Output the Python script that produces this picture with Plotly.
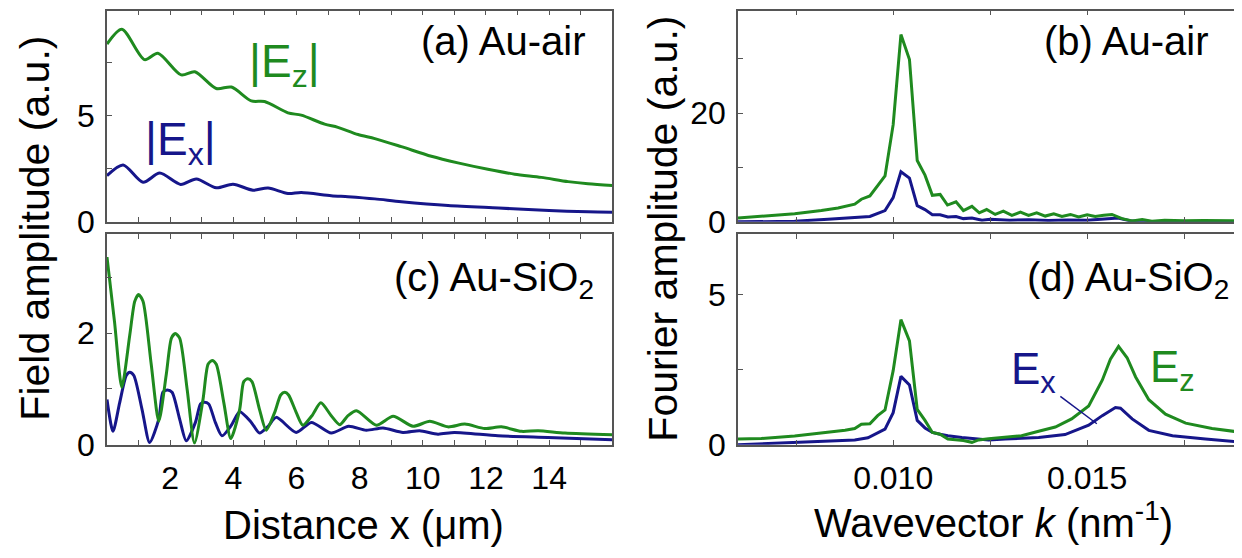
import plotly.graph_objects as go

# ---------------- data ----------------
# (a) Au-air, field amplitude vs distance (um)
ez_a_x = [0, 0.47, 1.19, 1.61, 2.35, 2.78, 3.46, 3.94, 4.57, 4.99, 5.73, 6.15, 6.89, 7.31, 7.95,
          8.48, 9.32, 10.27, 11.11, 12.06, 12.91, 13.75, 14.6, 15.23, 16.0]
ez_a_y = [8.35, 9.05, 7.62, 7.92, 6.9, 7.05, 6.26, 6.33, 5.68, 5.65, 5.12, 5.01, 4.59, 4.44, 4.1,
          3.91, 3.53, 3.08, 2.77, 2.47, 2.24, 2.09, 1.89, 1.79, 1.71]
ex_a_x = [0, 0.51, 1.14, 1.67, 2.33, 2.83, 3.46, 3.99, 4.62, 5.1, 5.73, 6.15, 7.1, 7.63, 8.48,
          9.32, 10.8, 12.4, 14.0, 15.23, 16.0]
ex_a_y = [2.17, 2.67, 1.86, 2.29, 1.76, 2.01, 1.6, 1.77, 1.49, 1.59, 1.33, 1.38, 1.23, 1.18, 1.08,
          0.95, 0.77, 0.65, 0.53, 0.47, 0.45]

# (c) Au-SiO2
ez_c_x = [0.0, 0.24, 0.47, 0.72, 0.88, 1.0, 1.14, 1.40, 1.64, 1.88, 2.04, 2.16, 2.3, 2.54, 2.77,
          3.04, 3.2, 3.33, 3.46, 3.7, 3.92, 4.2, 4.33, 4.46, 4.59, 4.83, 5.04, 5.31, 5.5, 5.63,
          5.75, 5.99, 6.2, 6.49, 6.77, 7.1, 7.37, 7.63, 7.9, 8.53, 9.06, 9.69, 10.22, 10.8,
          11.33, 11.96, 12.49, 13.12, 13.65, 14.5, 16.0]
ez_c_y = [3.36, 2.19, 1.03, 1.96, 2.57, 2.69, 2.57, 1.44, 0.42, 1.27, 1.91, 1.99, 1.91, 0.98, 0.03,
          0.81, 1.44, 1.51, 1.44, 0.75, 0.11, 0.63, 1.13, 1.18, 1.13, 0.63, 0.26, 0.58, 0.89, 0.94,
          0.89, 0.58, 0.35, 0.52, 0.75, 0.52, 0.36, 0.52, 0.61, 0.35, 0.51, 0.33, 0.42, 0.32,
          0.37, 0.29, 0.32, 0.24, 0.25, 0.21, 0.18]
ex_c_x = [0.0, 0.19, 0.4, 0.61, 0.72, 0.85, 1.11, 1.35, 1.64, 1.77, 1.91, 2.06, 2.3, 2.51, 2.8,
          2.96, 3.07, 3.22, 3.43, 3.64, 3.94, 4.2, 4.57, 4.83, 5.1, 5.36, 5.99, 6.47, 7.1, 7.65,
          8.21, 8.74, 9.37, 9.9, 10.48, 11.0, 12.38, 13.96, 16.0]
ex_c_y = [0.81, 0.24, 0.75, 1.24, 1.3, 1.24, 0.63, 0.04, 0.46, 0.94, 0.98, 0.94, 0.46, 0.07, 0.4,
          0.73, 0.76, 0.73, 0.4, 0.16, 0.35, 0.59, 0.4, 0.21, 0.33, 0.49, 0.22, 0.40, 0.21, 0.33,
          0.26, 0.30, 0.22, 0.25, 0.19, 0.22, 0.16, 0.13, 0.09]

# (b) Au-air, Fourier amplitude vs wavevector (1/nm)
ez_b_k = [0.0060, 0.0066, 0.00746, 0.00815, 0.00858, 0.00901, 0.00918, 0.0094, 0.00979, 0.0100,
          0.0102, 0.01042, 0.01062, 0.01082, 0.01101, 0.01121, 0.0114, 0.01162, 0.01181, 0.01203,
          0.01222, 0.01241, 0.01263, 0.01284, 0.01306, 0.01328, 0.01349, 0.0137, 0.01392, 0.01414,
          0.01435, 0.01457, 0.01478, 0.015, 0.01521, 0.01543, 0.01564, 0.0159, 0.01616, 0.01642,
          0.01667, 0.0170, 0.0175, 0.0180, 0.0185, 0.0190]
ez_b_y = [0.72, 1.0, 1.49, 2.09, 2.56, 3.27, 4.17, 4.77, 8.46, 17.9,
          34.5, 29.9, 11.3, 8.6, 4.9, 5.06, 3.1, 3.7, 2.09, 2.86,
          1.67, 2.27, 1.37, 1.97, 1.2, 1.79, 1.2, 1.67, 1.07, 1.49,
          1.0, 1.37, 0.89, 1.31, 1.0, 1.2, 1.37, 0.6, 0.18, 0.42,
          0.12, 0.3, 0.2, 0.25, 0.2, 0.2]
ex_b_k = [0.006, 0.00746, 0.00832, 0.00901, 0.0094, 0.00979, 0.0100, 0.0102, 0.01042, 0.01062,
          0.01082, 0.01101, 0.01121, 0.01141, 0.01162, 0.01181, 0.01203, 0.01229, 0.0125, 0.0130,
          0.0135, 0.0140, 0.0145, 0.0150, 0.0155, 0.0158, 0.0161, 0.0165, 0.0170, 0.0180, 0.0190]
ex_b_y = [0.0, 0.1, 0.48, 0.78, 1.0, 2.09, 4.47, 9.24, 8.05, 2.98,
          2.27, 1.31, 1.31, 0.89, 1.0, 0.6, 0.72, 0.3, 0.5, 0.3,
          0.4, 0.25, 0.35, 0.3, 0.5, 0.7, 0.2, 0.0, 0.05, 0.05, 0.05]

# (d) Au-SiO2
ez_d_k = [0.006, 0.0066, 0.00746, 0.00832, 0.00876, 0.00901, 0.00918, 0.0094, 0.0096, 0.00979,
          0.0100, 0.0102, 0.01042, 0.01062, 0.01082, 0.01101, 0.01121, 0.01141, 0.01181, 0.01203,
          0.0122, 0.01246, 0.01289, 0.01331, 0.01375, 0.01418, 0.0146, 0.01504, 0.01539, 0.0156,
          0.01581, 0.01603, 0.01625, 0.01659, 0.01702, 0.01754, 0.01822, 0.019]
ez_d_y = [0.19, 0.21, 0.29, 0.41, 0.48, 0.54, 0.68, 0.7, 0.97, 1.16,
          2.47, 4.17, 3.46, 1.18, 0.81, 0.41, 0.35, 0.19, 0.14, 0.08,
          0.16, 0.2, 0.24, 0.3, 0.45, 0.59, 0.86, 1.29, 2.15, 2.85,
          3.28, 2.9, 2.26, 1.5, 1.02, 0.72, 0.54, 0.41]
ex_d_k = [0.006, 0.00746, 0.00832, 0.00901, 0.00935, 0.00979, 0.0100, 0.0102, 0.01042, 0.01062,
          0.01082, 0.01101, 0.01121, 0.01141, 0.01177, 0.01212, 0.01246, 0.01289, 0.01375, 0.01443,
          0.01504, 0.01539, 0.01573, 0.01586, 0.01616, 0.01659, 0.0172, 0.01805, 0.019]
ex_d_y = [0.0, 0.07, 0.13, 0.16, 0.23, 0.52, 1.07, 2.28, 1.99, 0.81,
          0.56, 0.41, 0.35, 0.3, 0.24, 0.19, 0.16, 0.19, 0.24, 0.34,
          0.65, 0.97, 1.24, 1.22, 0.86, 0.48, 0.3, 0.19, 0.08]

# tick values (labelled) and minor tick values (unlabelled)
dist_tickvals = [2, 4, 6, 8, 10, 12, 14]
dist_minor = [1, 3, 5, 7, 9, 11, 13, 15]
k_tickvals = [0.010, 0.015]
k_ticktext = ["0.010", "0.015"]
k_minor = [0.0075, 0.0125, 0.0175]
ya_tickvals, ya_minor = [0, 5], [2.5, 7.5]
yc_tickvals, yc_minor = [0, 2], [1, 3]
yb_tickvals, yb_minor = [0, 20], [10, 30]
yd_tickvals, yd_minor = [0, 5], [2.5]

GREEN = "#1f8a1f"
BLUE = "#16168a"
FRAME = "#555555"
FONT = "Liberation Sans, Arial, sans-serif"
W, H = 1242, 558


def fx(p):
    return p / W


def fy(p):
    return 1 - p / H


fig = go.Figure()
lw = 3
fig.add_trace(go.Scatter(x=ex_a_x, y=ex_a_y, mode="lines", line=dict(color=BLUE, width=lw, shape="spline", smoothing=0.8), xaxis="x", yaxis="y"))
fig.add_trace(go.Scatter(x=ez_a_x, y=ez_a_y, mode="lines", line=dict(color=GREEN, width=lw, shape="spline", smoothing=0.8), xaxis="x", yaxis="y"))
fig.add_trace(go.Scatter(x=ex_b_k, y=ex_b_y, mode="lines", line=dict(color=BLUE, width=lw), xaxis="x2", yaxis="y2"))
fig.add_trace(go.Scatter(x=ez_b_k, y=ez_b_y, mode="lines", line=dict(color=GREEN, width=lw), xaxis="x2", yaxis="y2"))
fig.add_trace(go.Scatter(x=ex_c_x, y=ex_c_y, mode="lines", line=dict(color=BLUE, width=lw, shape="spline", smoothing=0.7), xaxis="x3", yaxis="y3"))
fig.add_trace(go.Scatter(x=ez_c_x, y=ez_c_y, mode="lines", line=dict(color=GREEN, width=lw, shape="spline", smoothing=0.7), xaxis="x3", yaxis="y3"))
fig.add_trace(go.Scatter(x=ex_d_k, y=ex_d_y, mode="lines", line=dict(color=BLUE, width=lw), xaxis="x4", yaxis="y4"))
fig.add_trace(go.Scatter(x=ez_d_k, y=ez_d_y, mode="lines", line=dict(color=GREEN, width=lw), xaxis="x4", yaxis="y4"))


def ax(**kw):
    minor_vals = kw.pop("minor_vals")
    d = dict(showline=True, linecolor=FRAME, linewidth=1.5, ticks="inside", ticklen=5,
             tickcolor=FRAME, tickwidth=1.2, showgrid=False, zeroline=False,
             tickfont=dict(family=FONT, size=32, color="black"), tickmode="array",
             minor=dict(tickmode="array", tickvals=minor_vals, ticks="inside", ticklen=5,
                        tickcolor=FRAME, tickwidth=1.2, showgrid=False))
    d.update(kw)
    return d


left_dom = [fx(99), fx(604.3)]
right_dom = [fx(730), fx(1234.3)]
top_dom = [fy(221), fy(2.7)]
bot_dom = [fy(451.3), fy(233.7)]

fig.update_layout(
    width=W, height=H, margin=dict(l=0, r=0, t=0, b=0),
    paper_bgcolor="white", plot_bgcolor="white", showlegend=False,
    font=dict(family=FONT, color="black"),
    xaxis=ax(domain=left_dom, anchor="y", range=[0, 16], tickvals=dist_tickvals,
             minor_vals=dist_minor, showticklabels=False, mirror="ticks"),
    yaxis=ax(domain=top_dom, anchor="x", range=[0, 9.92], tickvals=ya_tickvals,
             minor_vals=ya_minor, mirror=True, ticklabelstandoff=4),
    xaxis2=ax(domain=right_dom, anchor="y2", range=[0.006, 0.019], tickvals=k_tickvals,
              ticktext=k_ticktext, minor_vals=k_minor, showticklabels=False, mirror="ticks"),
    yaxis2=ax(domain=top_dom, anchor="x2", range=[0, 38.9], tickvals=yb_tickvals,
              minor_vals=yb_minor, mirror=True, ticklabelstandoff=4),
    xaxis3=ax(domain=left_dom, anchor="y3", range=[0, 16], tickvals=dist_tickvals,
              minor_vals=dist_minor, mirror="ticks", ticklabelstandoff=4),
    yaxis3=ax(domain=bot_dom, anchor="x3", range=[0, 3.77], tickvals=yc_tickvals,
              minor_vals=yc_minor, mirror=True, ticklabelstandoff=4),
    xaxis4=ax(domain=right_dom, anchor="y4", range=[0.006, 0.019], tickvals=k_tickvals,
              ticktext=k_ticktext, minor_vals=k_minor, mirror="ticks", ticklabelstandoff=4),
    yaxis4=ax(domain=bot_dom, anchor="x4", range=[0, 7.02], tickvals=yd_tickvals,
              minor_vals=yd_minor, mirror=True, ticklabelstandoff=4),
)

ann = []


def add(text, x, y, size, color="black", xanchor="center", yanchor="middle", angle=0):
    ann.append(dict(text=text, x=x, y=y, xref="paper", yref="paper", showarrow=False,
                    xanchor=xanchor, yanchor=yanchor, textangle=angle,
                    font=dict(family=FONT, size=size, color=color)))


add("Field amplitude (a.u.)", fx(27), fy(228), 41, angle=-90)
add("Fourier amplitude (a.u.)", fx(655), fy(228), 41, angle=-90)
add("Distance x (\u03bcm)", fx(355), fy(534), 40)
add("Wavevector <i>k</i> (nm<sup>-1</sup>)", fx(985), fy(529), 40)
add("(a) Au-air", fx(580), fy(34), 40, xanchor="right")
add("(b) Au-air", fx(1203), fy(34), 40, xanchor="right")
add("(c) Au-SiO<sub>2</sub>", fx(588), fy(281), 40, xanchor="right")
add("(d) Au-SiO<sub>2</sub>", fx(1223), fy(281), 40, xanchor="right")
add("|E<sub>z</sub>|", fx(239), fy(58), 46, GREEN, xanchor="left")
add("|E<sub>x</sub>|", fx(135), fy(139), 46, BLUE, xanchor="left")
add("E<sub>x</sub>", fx(1001), fy(376), 44, BLUE, xanchor="left")
add("E<sub>z</sub>", fx(1140), fy(374), 44, GREEN, xanchor="left")
fig.update_layout(annotations=ann)

# pointer line from the E_x label to its curve in panel (d)
fig.add_shape(type="line", xref="x4", yref="y4", x0=0.01431, y0=1.61, x1=0.01525, y1=0.70,
              line=dict(color=BLUE, width=1.5))

fig.write_html("out.html")
